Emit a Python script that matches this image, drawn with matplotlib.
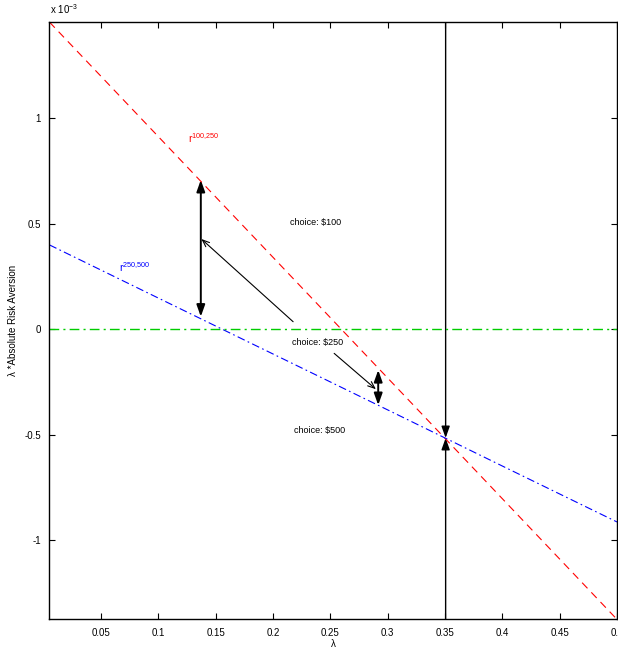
import numpy as np
import matplotlib
matplotlib.use('Agg')
import matplotlib.pyplot as plt
from matplotlib.patches import FancyArrowPatch
from matplotlib.ticker import FuncFormatter

plt.rcParams['font.family'] = ['Liberation Sans', 'DejaVu Sans']

# values (y in units of 1e-3)
lam = [0.005, 0.1, 0.2, 0.3, 0.4, 0.5]
r_100_250 = [1.456, 0.913, 0.341, -0.231, -0.803, -1.375]
r_250_500 = [0.400, 0.148, -0.117, -0.382, -0.648, -0.913]
lam_star = 0.3505
y_star = -0.515

# arrows: (x0, y0, x1, y1, style)
arrows = [
    (0.137, 0.06, 0.137, 0.708, 'both'),
    (0.2175, 0.036, 0.1375, 0.428, 'one'),
    (0.2533, -0.114, 0.2897, -0.284, 'one'),
    (0.2917, -0.359, 0.2917, -0.193, 'both'),
    (lam_star, 1.456, lam_star, y_star, 'head'),
    (lam_star, -1.375, lam_star, y_star, 'head'),
]
labels = [(0.2375, 0.505, 'choice: $100'), (0.2385, -0.062, 'choice: $250'),
          (0.2405, -0.48, 'choice: $500')]

fig = plt.figure(figsize=(6.18, 6.49), dpi=100)
ax = fig.add_axes([0.080, 0.0455, 0.9185, 0.9205])

x = np.array(lam)
ax.plot(x, np.array(r_100_250) * 1e-3, color='red', ls=(0, (7, 5)), lw=0.8)
ax.plot(x, np.array(r_250_500) * 1e-3, color='blue', ls=(0, (7, 3, 1.5, 3)), lw=0.8)
ax.axhline(0, color='#00cc00', ls=(0, (7, 3, 1.5, 3)), lw=1.0)

for x0, y0, x1, y1, kind in arrows:
    if kind == 'both':
        st, lw = '<|-|>,head_length=0.7,head_width=0.25', 1.4
    elif kind == 'head':
        st, lw = '-|>,head_length=0.7,head_width=0.25', 1.0
    else:
        st, lw = '->,head_length=0.5,head_width=0.2', 0.8
    a = FancyArrowPatch((x0, y0 * 1e-3), (x1, y1 * 1e-3), arrowstyle=st,
                        mutation_scale=10, color='black', lw=lw,
                        shrinkA=0, shrinkB=0)
    ax.add_patch(a)

for tx, ty, s in labels:
    ax.text(tx, ty * 1e-3, s, fontsize=6.5, ha='center', va='center')

ax.text(0.1255, 0.885e-3, r'r$^{\mathregular{100{,}250}}$', color='red', fontsize=7.5)
ax.text(0.0655, 0.27e-3, r'r$^{\mathregular{250{,}500}}$', color='blue', fontsize=7.5)

ax.set_xlim(0.005, 0.5)
ax.set_ylim(-1.375e-3, 1.456e-3)
ax.set_xticks([0.05, 0.1, 0.15, 0.2, 0.25, 0.3, 0.35, 0.4, 0.45, 0.5])
ax.set_yticks([-1e-3, -0.5e-3, 0, 0.5e-3, 1e-3])
ax.xaxis.set_major_formatter(FuncFormatter(lambda v, p: '%g' % round(v, 4)))
ax.yaxis.set_major_formatter(FuncFormatter(lambda v, p: '%g' % round(v * 1e3, 4)))
ax.tick_params(direction='in', length=4, width=0.8, labelsize=7,
               top=True, right=True, pad=6)
for s in ax.spines.values():
    s.set_linewidth(1.0)

ax.set_xlabel('λ', fontsize=7, labelpad=1)
ax.set_ylabel('λ *Absolute Risk Aversion', fontsize=7, labelpad=5)
fig.text(0.081, 0.975, r'x 10$^{\mathregular{-3}}$', fontsize=7, ha='left', va='bottom')

fig.savefig('out.png', dpi=100)
